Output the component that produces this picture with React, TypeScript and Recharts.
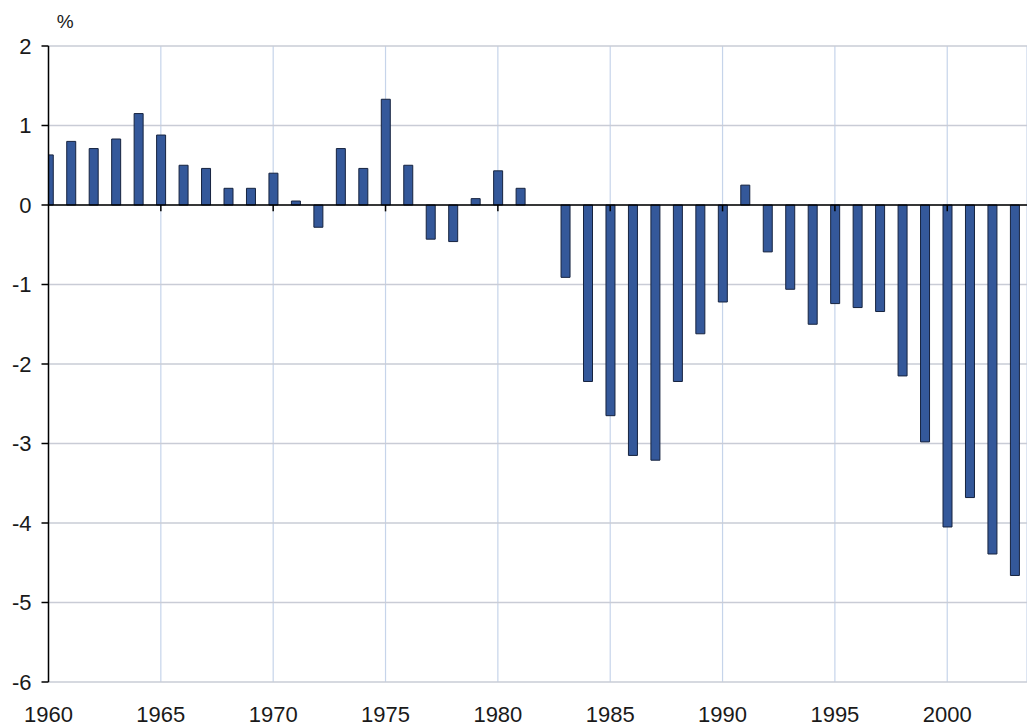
import React from 'react';
import { BarChart, Bar, XAxis, YAxis, CartesianGrid, ReferenceLine } from 'recharts';

const years = [
  1960, 1961, 1962, 1963, 1964, 1965, 1966, 1967, 1968, 1969,
  1970, 1971, 1972, 1973, 1974, 1975, 1976, 1977, 1978, 1979,
  1980, 1981, 1982, 1983, 1984, 1985, 1986, 1987, 1988, 1989,
  1990, 1991, 1992, 1993, 1994, 1995, 1996, 1997, 1998, 1999,
  2000, 2001, 2002, 2003,
];

const balance: (number | null)[] = [
  0.63, 0.8, 0.71, 0.83, 1.15, 0.88, 0.5, 0.46, 0.21, 0.21,
  0.4, 0.05, -0.28, 0.71, 0.46, 1.33, 0.5, -0.43, -0.46, 0.08,
  0.43, 0.21, null, -0.91, -2.22, -2.65, -3.15, -3.21, -2.22, -1.62,
  -1.22, 0.25, -0.59, -1.06, -1.5, -1.24, -1.29, -1.34, -2.15, -2.98,
  -4.05, -3.68, -4.39, -4.66,
];

const xTicks = [1960, 1965, 1970, 1975, 1980, 1985, 1990, 1995, 2000];
const yTicks = [-6, -5, -4, -3, -2, -1, 0, 1, 2];
const zeroAxisTicks = [1965, 1970, 1975, 1980, 1985, 1990, 1995, 2000];

const data = years.map((year, i) => ({ year, value: balance[i] }));

const font = 'Liberation Sans, Arial, sans-serif';

export default function App() {
  return (
    <div style={{ position: 'absolute', left: 0, top: 0, width: 1027, height: 726, background: '#ffffff' }}>
      <BarChart
        width={1027}
        height={726}
        data={data}
        margin={{ top: 46, right: 0, bottom: 0, left: 0 }}
        barSize={9}
      >
        <CartesianGrid horizontal={false} stroke="#c6d4ea" strokeWidth={1.2} />
        <CartesianGrid vertical={false} stroke="#c9ccd6" strokeWidth={1.5} />
        <XAxis
          dataKey="year"
          type="number"
          domain={[1960, 2003.55]}
          ticks={xTicks}
          interval={0}
          allowDataOverflow
          axisLine={false}
          tickLine={false}
          tickSize={0}
          tickMargin={24}
          height={44}
          tick={{ fontSize: 22, fill: '#1a1a1a', fontFamily: font }}
        />
        <YAxis
          type="number"
          domain={[-6, 2]}
          ticks={yTicks}
          interval={0}
          width={48.5}
          axisLine={{ stroke: '#000', strokeWidth: 1.5 }}
          tickLine={{ stroke: '#000', strokeWidth: 1.5 }}
          tickSize={7}
          tickMargin={10}
          tick={{ fontSize: 22, fill: '#1a1a1a', fontFamily: font }}
          label={{ value: '%', position: 'top', offset: 18, dx: 41, fontSize: 19, fill: '#1a1a1a', fontFamily: font }}
        />
        <Bar dataKey="value" fill="#34589a" stroke="#16233f" strokeWidth={1} isAnimationActive={false} />
        <ReferenceLine y={0} stroke="#000" strokeWidth={1.5} />
        {zeroAxisTicks.map((t) => (
          <ReferenceLine
            key={t}
            segment={[{ x: t, y: 0 }, { x: t, y: -0.08 }]}
            stroke="#000"
            strokeWidth={1.5}
          />
        ))}
      </BarChart>
    </div>
  );
}
